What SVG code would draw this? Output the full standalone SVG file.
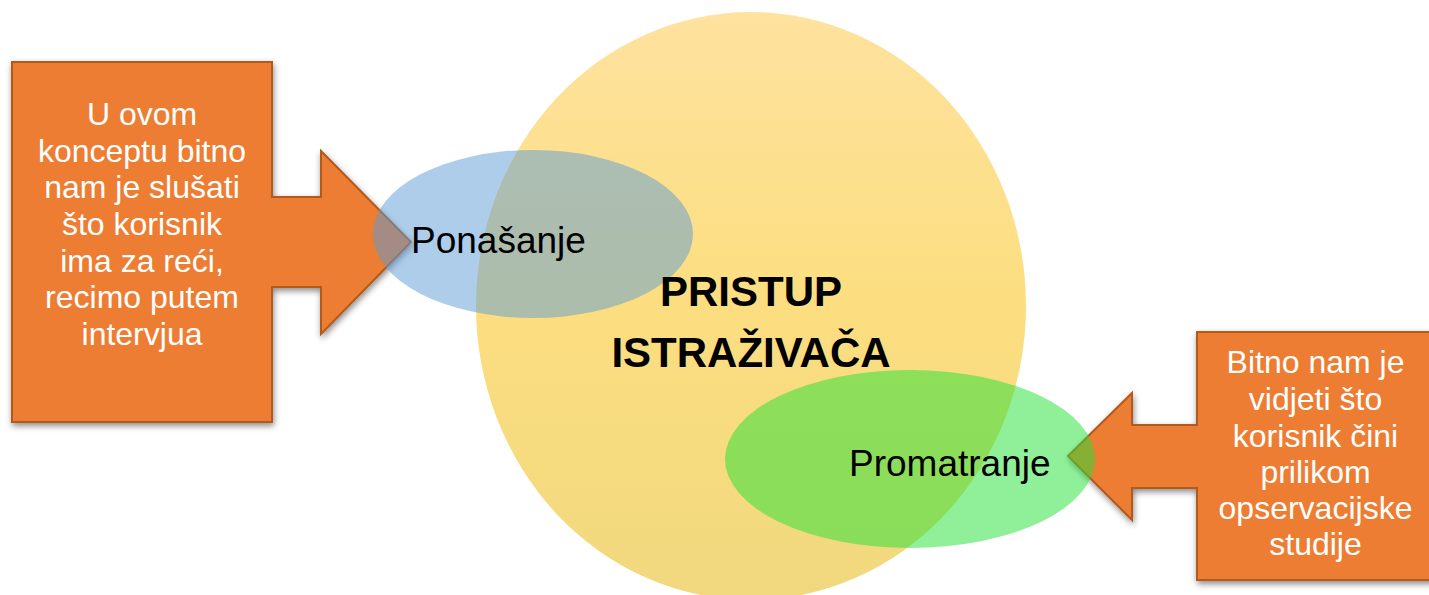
<svg xmlns="http://www.w3.org/2000/svg" width="1429" height="595" viewBox="0 0 1429 595">
  <style>
    .callout { fill: #ED7D31; stroke: #B25A1F; stroke-width: 2; filter: url(#shadow); }
    .ctext { font-family: "Liberation Sans", Arial, sans-serif; font-size: 32px; fill: #FFFFFF; text-anchor: middle; }
    .label { font-family: "Liberation Sans", Arial, sans-serif; font-size: 37px; fill: #000000; }
    .title { font-family: "Liberation Sans", Arial, sans-serif; font-size: 42px; font-weight: bold; fill: #000000; text-anchor: middle; }
  </style>
  <defs>
    <filter id="shadow" x="-10%" y="-10%" width="125%" height="125%">
      <feDropShadow dx="1" dy="3" stdDeviation="3" flood-color="#000000" flood-opacity="0.45"/>
    </filter>
    <linearGradient id="yellowGrad" x1="0" y1="0" x2="0" y2="1">
      <stop offset="0" stop-color="#FEE29E"/>
      <stop offset="0.5" stop-color="#FCDE80"/>
      <stop offset="1" stop-color="#F1D87E"/>
    </linearGradient>
  </defs>

  <rect width="1429" height="595" fill="#FFFFFF"/>

  <g id="connectors">
    <polygon id="left-arrow" class="callout" points="12,62 272,62 272,197 321,197 321,151 411,242 321,334 321,287 272,287 272,422 12,422"/>
    <polygon id="right-arrow" class="callout" points="1197,332 1440,332 1440,580 1197,580 1197,488 1132,488 1132,520 1068,456 1132,393 1132,425 1197,425"/>
  </g>

  <g id="node-pristup">
    <ellipse cx="751" cy="306" rx="275" ry="294" fill="url(#yellowGrad)"/>
  </g>

  <g id="node-ponasanje">
    <ellipse cx="533" cy="234" rx="160" ry="84" fill="#5B9BD5" fill-opacity="0.5"/>
  </g>

  <g id="node-promatranje">
    <ellipse cx="910" cy="459" rx="185" ry="89" fill="#21E135" fill-opacity="0.5"/>
  </g>

  <g id="texts">
    <text class="title" x="751" y="306">PRISTUP</text>
    <text class="title" x="751" y="367">ISTRAŽIVAČA</text>
    <text class="label" x="411" y="253">Ponašanje</text>
    <text class="label" x="849" y="476">Promatranje</text>
  </g>

  <g id="left-callout-text">
    <text class="ctext" x="142" y="125">U ovom</text>
    <text class="ctext" x="142" y="161.5">konceptu bitno</text>
    <text class="ctext" x="142" y="198">nam je slušati</text>
    <text class="ctext" x="142" y="235">što korisnik</text>
    <text class="ctext" x="142" y="271.5">ima za reći,</text>
    <text class="ctext" x="142" y="308">recimo putem</text>
    <text class="ctext" x="142" y="345">intervjua</text>
  </g>

  <g id="right-callout-text">
    <text class="ctext" x="1315.5" y="373">Bitno nam je</text>
    <text class="ctext" x="1315.5" y="410">vidjeti što</text>
    <text class="ctext" x="1315.5" y="446.5">korisnik čini</text>
    <text class="ctext" x="1315.5" y="483">prilikom</text>
    <text class="ctext" x="1315.5" y="519">opservacijske</text>
    <text class="ctext" x="1315.5" y="555">studije</text>
  </g>
</svg>
